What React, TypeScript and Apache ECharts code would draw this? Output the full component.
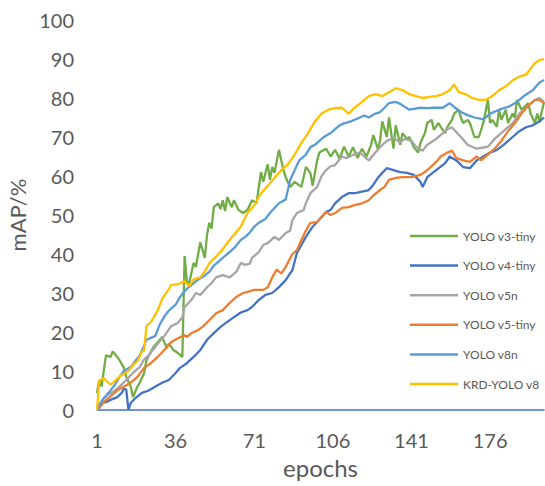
import React, { useEffect, useRef } from "react";
import * as echarts from "echarts";

const xTickLabels = [1, 36, 71, 106, 141, 176];
const seriesNames = ["YOLO v3-tiny", "YOLO v4-tiny", "YOLO v5n", "YOLO v5-tiny", "YOLO v8n", "KRD-YOLO v8"];
const seriesColors = ["#70AD47", "#4472C4", "#A5A5A5", "#ED7D31", "#5B9BD5", "#FFC000"];

const v3Tiny = [[1,4.3],[2,7.7],[3,6],[5,14],[7,13.6],[8,15],[10,13.6],[11,12.8],[13,10.8],[14,8.5],[16,6],[17,3.3],[19,6],[20,7],[22,9.5],[23,12.8],[26,16],[29,18],[30,18.7],[32,16],[33,17],[35,15.4],[37,14.6],[39,13.6],[40,39.5],[41,33],[42,32.5],[44,37.7],[45,36.7],[47,43],[48,41],[49,39],[50,45],[51,48],[52,46.5],[53,52],[55,53],[56,51.5],[57,53.8],[58,51],[59,54.6],[61,52],[62,53.8],[64,51.3],[66,50.5],[68,51.3],[70,53.8],[72,53],[74,61],[75,58.5],[77,63],[78,59],[79,62.3],[80,60.8],[82,66.7],[84,61.5],[85,59.7],[87,57.2],[89,58.5],[92,57.2],[94,62.3],[96,60.8],[97,57.5],[99,64],[100,66],[103,67],[105,65],[107,66.7],[109,64.5],[111,67.5],[113,65],[115,67.4],[117,64.6],[119,67],[121,65],[123,68],[124,70.5],[126,67],[127,69],[128,74],[130,70],[131,75],[133,67],[134,73],[136,68],[137,71],[139,69.5],[140,70],[142,67.4],[144,66],[145,68.5],[147,71],[148,73.6],[150,74.4],[151,71.8],[153,73.6],[154,72.6],[156,71],[157,72.6],[159,74.4],[160,76],[162,77],[163,75],[164,73.6],[166,74.4],[167,73.6],[169,70],[171,70],[173,73.6],[175,79.5],[176,73.6],[177,74.4],[179,72.6],[180,77],[181,74.4],[183,77],[184,73.6],[186,76],[187,75],[188,79.5],[190,77],[193,78.7],[194,76],[196,73.6],[197,76],[198,74],[200,79]];

const v4Tiny = [[1,0],[3,1.8],[5,2],[7,2.6],[10,3.3],[12,4.4],[13,5.4],[14,5.3],[15,0],[16,1.8],[18,3],[21,4.4],[24,5],[27,6],[30,7],[33,7.7],[36,9.5],[38,10.8],[41,12],[44,13.6],[47,15.4],[50,18],[53,19.7],[56,21.3],[59,22.6],[62,23.8],[65,25],[68,25.6],[70,26.4],[73,28.2],[76,29.5],[79,30],[82,31.5],[85,33.3],[88,35.9],[90,40.3],[92,42.3],[94,44.4],[97,47],[99,48.2],[101,49.5],[103,50.8],[105,51.3],[107,53],[110,54.6],[113,55.6],[116,55.6],[119,56],[122,56.4],[124,57.7],[126,59.5],[128,60.8],[130,62],[133,61.5],[136,61],[139,60.8],[142,60.3],[145,58.5],[146,57.2],[148,59.7],[152,61.5],[156,63.3],[158,65],[161,64],[164,62.3],[167,62],[170,64],[173,65],[176,66],[179,66.7],[182,68],[186,70],[189,71.5],[192,72.5],[195,73],[198,74],[200,75]];

const v5n = [[1,0],[2,1.5],[4,3],[6,4],[8,4.6],[10,5.5],[11,6],[14,7.7],[17,9.5],[20,11],[22,13],[24,14],[26,15.5],[28,17],[31,19],[34,21.5],[37,22.3],[39,23.8],[40,26.4],[41,27],[43,28.2],[45,30],[47,29.5],[50,31.5],[52,32.5],[54,34],[57,34.6],[60,34],[63,35.4],[65,37.7],[67,37.2],[69,37.5],[70,39],[73,40.5],[75,42.3],[77,42.8],[80,44.4],[82,43.6],[85,45.4],[87,46],[88,48.7],[90,50.5],[93,51.3],[94,53],[96,55.6],[99,57.2],[101,60],[103,61.5],[105,62.5],[107,62.8],[110,65],[112,64.6],[115,65.4],[118,66],[120,65],[122,64],[124,65.4],[127,67.4],[130,69],[133,69.7],[136,68.7],[138,69.5],[141,69],[143,67.5],[146,66.5],[148,68],[152,69.5],[155,71],[157,72],[159,72.5],[163,70],[166,68],[170,67],[175,67.5],[178,69.5],[182,71.5],[186,73.5],[189,76],[192,77.5],[196,79.5],[198,80],[200,79]];

const v5Tiny = [[1,0],[2,0.5],[4,2],[7,3.5],[10,5],[13,6],[16,7],[19,8.5],[22,10.8],[25,12],[28,13.6],[31,15.4],[34,17.4],[37,18.4],[40,19.2],[41,18.7],[43,19.7],[46,20.5],[48,21.3],[51,23],[54,24.8],[57,25.6],[60,27.4],[63,29],[66,30],[68,30.3],[71,30.8],[75,30.8],[77,31.5],[79,34],[81,36],[83,35],[85,36.7],[88,40],[90,41],[92,43.6],[94,46],[96,48],[99,48.2],[101,49.5],[103,50.8],[105,50],[107,50.5],[110,51.8],[113,52],[116,52.6],[119,53],[122,53.8],[124,55],[127,56.4],[129,57.2],[131,59],[134,59.5],[137,59.7],[141,59.7],[145,60.3],[147,61],[149,62],[152,63.6],[154,65],[157,66],[159,66.5],[161,64.6],[164,64],[167,63.6],[170,65],[172,64],[175,65.5],[178,67],[181,69],[184,71.5],[187,73.5],[190,76],[193,78],[196,79.5],[198,79.5],[200,78.7]];

const v8n = [[1,0],[2,1],[4,3],[7,5],[9,6.5],[11,8.5],[13,10],[16,11],[18,12.5],[20,14],[22,16.5],[23,18],[25,18.5],[27,19],[29,22],[31,24],[33,25.5],[36,27],[38,29],[40,30.5],[42,31.6],[45,33],[47,33.8],[49,34.5],[51,35.4],[53,37],[56,38.5],[58,39.5],[60,40.5],[62,41.5],[65,43.6],[67,44.4],[69,45.5],[71,47],[73,48],[76,49],[78,50.5],[80,51.8],[82,53],[85,54],[87,59],[89,61.5],[91,64],[94,65.5],[96,67.4],[98,68],[100,69],[102,70],[105,71],[107,72],[109,73],[111,73.5],[114,74],[116,74.5],[118,75],[120,75.5],[122,75],[125,76],[127,76.4],[129,77.5],[131,78.7],[134,79],[136,78.5],[140,77],[145,77.5],[148,77.4],[151,77.5],[155,77.5],[158,78.7],[160,77.7],[163,76.4],[166,75.6],[169,75],[173,74.5],[176,76],[180,77],[184,77.7],[188,79],[191,80.5],[195,82],[198,84],[200,84.6]];

const krdYolo = [[1,0],[2,7.5],[4,8.2],[5,7.5],[7,6.5],[9,7.5],[12,9],[15,10],[17,11.5],[19,12.5],[21,15],[22,15.2],[23,21.5],[25,22.5],[28,25.5],[30,28.5],[33,31],[34,32],[37,32.3],[38,32.5],[40,33],[42,31.8],[44,33.5],[47,34],[49,35.5],[51,37.6],[56,40.5],[60,43.6],[65,47],[68,50.5],[71,52.5],[74,55.5],[77,57.5],[80,59.5],[83,61.5],[86,63],[89,65.5],[92,68.5],[95,71],[98,74],[101,76],[104,77],[107,77.4],[110,77.5],[113,76],[116,77.7],[119,79],[122,80.5],[125,81],[128,80.5],[131,81.5],[134,82.5],[137,82],[140,81],[143,80.5],[146,80],[149,80.3],[152,80.5],[155,81],[158,82],[160,83.5],[162,81.5],[165,81],[168,80],[171,79.5],[174,79.5],[177,80.5],[180,82],[183,83],[186,84.5],[189,85.5],[192,86],[194,87.5],[196,89],[198,89.7],[200,90]];

const allSeries = [v3Tiny, v4Tiny, v5n, v5Tiny, v8n, krdYolo];

export default function App() {
  const ref = useRef<HTMLDivElement>(null);
  useEffect(() => {
    if (!ref.current) return;
    const chart = echarts.init(ref.current, null, { renderer: "svg" });
    const font = "Lato";
    chart.setOption({
      animation: false,
      backgroundColor: "#ffffff",
      textStyle: { fontFamily: font },
      grid: { left: 97, right: 1, top: 20, bottom: 76, outerBoundsMode: "none", containLabel: false },
      legend: {
        orient: "vertical",
        left: 410,
        top: 229,
        padding: 0,
        icon: "rect",
        itemWidth: 48,
        itemHeight: 2.5,
        itemGap: 15.6,
        textStyle: { fontFamily: font, fontSize: 12, color: "#595959", lineHeight: 14 },
        data: seriesNames,
      },
      xAxis: {
        type: "value",
        min: 1,
        max: 200,
        name: "epochs",
        nameLocation: "middle",
        nameGap: 45,
        nameTextStyle: { fontFamily: font, fontSize: 24, color: "#595959" },
        axisLine: { show: true, lineStyle: { color: "#4472C4", width: 1.5 } },
        axisTick: { show: false, customValues: xTickLabels },
        splitLine: { show: false },
        axisLabel: {
          customValues: xTickLabels,
          margin: 20,
          fontFamily: font,
          fontSize: 20,
          color: "#595959",
        },
      },
      yAxis: {
        type: "value",
        min: 0,
        max: 100,
        interval: 10,
        name: "mAP/%",
        nameLocation: "middle",
        nameGap: 64,
        nameRotate: 90,
        nameTextStyle: { fontFamily: font, fontSize: 22, color: "#595959" },
        axisLine: { show: false },
        axisTick: { show: false },
        splitLine: { show: false },
        axisLabel: { margin: 23, fontFamily: font, fontSize: 20, color: "#595959" },
      },
      series: allSeries.map((d, i) => ({
        name: seriesNames[i],
        type: "line",
        data: d,
        symbol: "none",
        color: seriesColors[i],
        lineStyle: { color: seriesColors[i], width: 2.3 },
      })),
    });
    return () => chart.dispose();
  }, []);
  return <div ref={ref} style={{ width: 545, height: 486, position: "absolute", left: 0, top: 0 }} />;
}
